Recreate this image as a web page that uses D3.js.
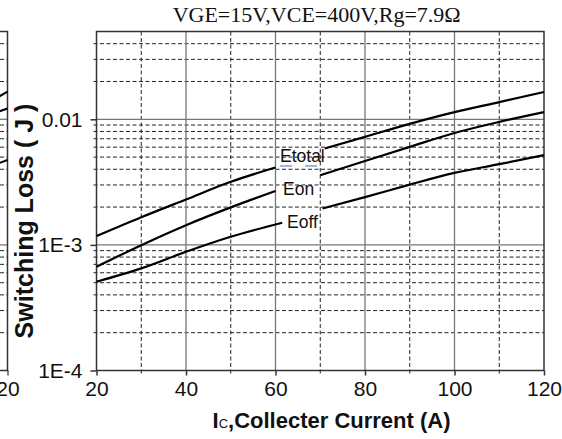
<!DOCTYPE html>
<html>
<head>
<meta charset="utf-8">
<script src="https://cdn.jsdelivr.net/npm/d3@7"></script>
<style>
  body { margin: 0; background: #fff; }
  svg { display: block; }
  text { font-family: Arial, "Liberation Sans", sans-serif; fill: #111; }
</style>
</head>
<body>
<svg id="chart" width="562" height="439"></svg>
<script>
// collector current (A) and switching energy (J), null = gap left for the label
const etotalI = [20, 30, 40, 50, 60, 65, 71, 80, 90, 100, 110, 120]
const etotalE = [1.175e-3, 1.66e-3, 2.30e-3, 3.18e-3, 4.13e-3, null, 5.85e-3, 7.25e-3, 9.2e-3, 0.0114, 0.0137, 0.0165]

const eonI = [20, 30, 40, 50, 60, 65, 70, 80, 90, 100, 110, 120]
const eonE = [6.7e-4, 9.95e-4, 1.436e-3, 1.99e-3, 2.69e-3, null, 3.59e-3, 4.65e-3, 6.03e-3, 7.78e-3, 9.53e-3, 0.0114]

const eoffI = [20, 30, 40, 50, 61.5, 66, 70.5, 80, 90, 100, 110, 120]
const eoffE = [5.09e-4, 6.5e-4, 8.81e-4, 1.16e-3, 1.5e-3, null, 1.95e-3, 2.40e-3, 3.02e-3, 3.74e-3, 4.39e-3, 5.18e-3]

// bits of the neighbouring chart that show at the left edge
const nbI = [19.6, 20]
const nbA = [0.0151, 0.0166]
const nbB = [0.0115, 0.0122]
const nbC = [4.46e-3, 4.74e-3]

const xTicks = [20, 40, 60, 80, 100, 120]
const xMinor = [30, 50, 70, 90, 110]
const yTicks = [1e-4, 1e-3, 1e-2]
const yTickLabels = ['1E-4', '1E-3', '0.01']
const yMinor = [2e-4, 3e-4, 4e-4, 5e-4, 6e-4, 7e-4, 8e-4, 9e-4,
  2e-3, 3e-3, 4e-3, 5e-3, 6e-3, 7e-3, 8e-3, 9e-3,
  0.02, 0.03, 0.04]

const svg = d3.select('#chart')

const x = d3.scaleLinear().domain([20, 120]).range([96.5, 544])
const y = d3.scaleLog().domain([1e-4, 0.05]).range([370.5, 31.5])
// neighbour panel, its right border sits at x = 7.5
const xNb = d3.scaleLinear().domain([0, 20]).range([-440, 7.5])

const yTop = y(0.05), yBottom = y(1e-4)

function zip(a, b) { return a.map((d, i) => [d, b[i]]) }

// ---- neighbour fragment
let nb = svg.append('g')
nb.selectAll('.nbminor').data(yMinor).enter().append('line')
  .attr('x1', 0).attr('x2', xNb(20))
  .attr('y1', d => y(d)).attr('y2', d => y(d))
  .attr('stroke', '#222').attr('stroke-dasharray', '4,2.5')
nb.selectAll('.nbmajor').data(yTicks.slice(1)).enter().append('line')
  .attr('x1', 0).attr('x2', xNb(20))
  .attr('y1', d => y(d)).attr('y2', d => y(d))
  .attr('stroke', '#777').attr('stroke-width', 1.3)
nb.append('path')
  .attr('d', `M0,${yTop}H${xNb(20)}V${yBottom}H0`)
  .attr('fill', 'none').attr('stroke', '#333').attr('stroke-width', 1.5)
let nbLine = d3.line().x(d => xNb(d[0])).y(d => y(d[1]))
;[nbA, nbB, nbC].forEach(arr => {
  nb.append('path').attr('d', nbLine(zip(nbI, arr)))
    .attr('fill', 'none').attr('stroke', '#000').attr('stroke-width', 2)
})
nb.append('g')
  .attr('transform', `translate(0,${yBottom})`)
  .call(d3.axisBottom(xNb).tickValues([20]).tickSize(5).tickPadding(6))
  .call(g => g.select('.domain').remove())
  .call(g => g.selectAll('text').attr('font-size', 21).attr('font-family', 'Arial, Liberation Sans, sans-serif').attr('fill', '#111'))

// ---- grid
let grid = svg.append('g')
grid.selectAll('.ym').data(yMinor).enter().append('line')
  .attr('x1', x(20) - 3).attr('x2', x(120))
  .attr('y1', d => y(d)).attr('y2', d => y(d))
  .attr('stroke', '#222').attr('stroke-dasharray', '4,2.5')
grid.selectAll('.xm').data(xMinor).enter().append('line')
  .attr('x1', d => x(d)).attr('x2', d => x(d))
  .attr('y1', yTop).attr('y2', yBottom + 4)
  .attr('stroke', '#222').attr('stroke-dasharray', '4,2.5')
grid.selectAll('.yM').data(yTicks.slice(1)).enter().append('line')
  .attr('x1', x(20)).attr('x2', x(120))
  .attr('y1', d => y(d)).attr('y2', d => y(d))
  .attr('stroke', '#777').attr('stroke-width', 1.3)
grid.selectAll('.xM').data(xTicks.slice(1, -1)).enter().append('line')
  .attr('x1', d => x(d)).attr('x2', d => x(d))
  .attr('y1', yTop).attr('y2', yBottom)
  .attr('stroke', '#777').attr('stroke-width', 1.3)

// frame
svg.append('rect')
  .attr('x', x(20)).attr('y', yTop)
  .attr('width', x(120) - x(20)).attr('height', yBottom - yTop)
  .attr('fill', 'none').attr('stroke', '#333').attr('stroke-width', 1.5)

// axes
svg.append('g')
  .attr('transform', `translate(${x(20)},0)`)
  .call(d3.axisLeft(y).tickValues(yTicks).tickFormat((d, i) => yTickLabels[i]).tickSize(6).tickPadding(8))
  .call(g => g.select('.domain').remove())
  .call(g => g.selectAll('line').attr('stroke', '#333').attr('stroke-width', 1.5))
  .call(g => g.selectAll('text').attr('font-size', 21).attr('font-family', 'Arial, Liberation Sans, sans-serif').attr('fill', '#111'))

svg.append('g')
  .attr('transform', `translate(0,${yBottom})`)
  .call(d3.axisBottom(x).tickValues(xTicks).tickSize(5).tickPadding(6))
  .call(g => g.select('.domain').remove())
  .call(g => g.selectAll('line').attr('stroke', '#333').attr('stroke-width', 1.5))
  .call(g => g.selectAll('text').attr('font-size', 21).attr('font-family', 'Arial, Liberation Sans, sans-serif').attr('fill', '#111'))

// curves
let line = d3.line()
  .defined(d => d[1] != null)
  .x(d => x(d[0]))
  .y(d => y(d[1]))
  .curve(d3.curveMonotoneX)

;[zip(etotalI, etotalE), zip(eonI, eonE), zip(eoffI, eoffE)].forEach(s => {
  svg.append('path').attr('d', line(s))
    .attr('fill', 'none').attr('stroke', '#000').attr('stroke-width', 2.2)
})

// curve labels
svg.append('text').attr('x', 280).attr('y', 161.5).attr('font-size', 17.5).text('Etotal')
svg.append('line').attr('x1', 280).attr('x2', 319).attr('y1', 166).attr('y2', 166)
  .attr('stroke', '#7c9ee0').attr('stroke-width', 1.3).attr('stroke-dasharray', '12,13')
svg.append('text').attr('x', 283).attr('y', 195).attr('font-size', 17.5).text('Eon')
svg.append('text').attr('x', 287).attr('y', 228).attr('font-size', 17.5).text('Eoff')

// titles
svg.append('text')
  .attr('x', 316.7).attr('y', 22)
  .attr('text-anchor', 'middle')
  .attr('font-size', 22)
  .style('font-family', '"Liberation Serif", "Times New Roman", serif')
  .text('VGE=15V,VCE=400V,Rg=7.9Ω')

let xl = svg.append('text')
  .attr('x', 331.5).attr('y', 428)
  .attr('text-anchor', 'middle')
  .attr('font-size', 22).attr('font-weight', 'bold')
xl.append('tspan').text('I')
xl.append('tspan').attr('font-size', 13).attr('font-weight', 'normal').text('C')
xl.append('tspan').text(',Collecter Current (A)')

svg.append('text')
  .attr('transform', 'translate(33,221) rotate(-90)')
  .attr('text-anchor', 'middle')
  .attr('font-size', 25).attr('font-weight', 'bold')
  .text('Switching Loss ( J )')
</script>
</body>
</html>
